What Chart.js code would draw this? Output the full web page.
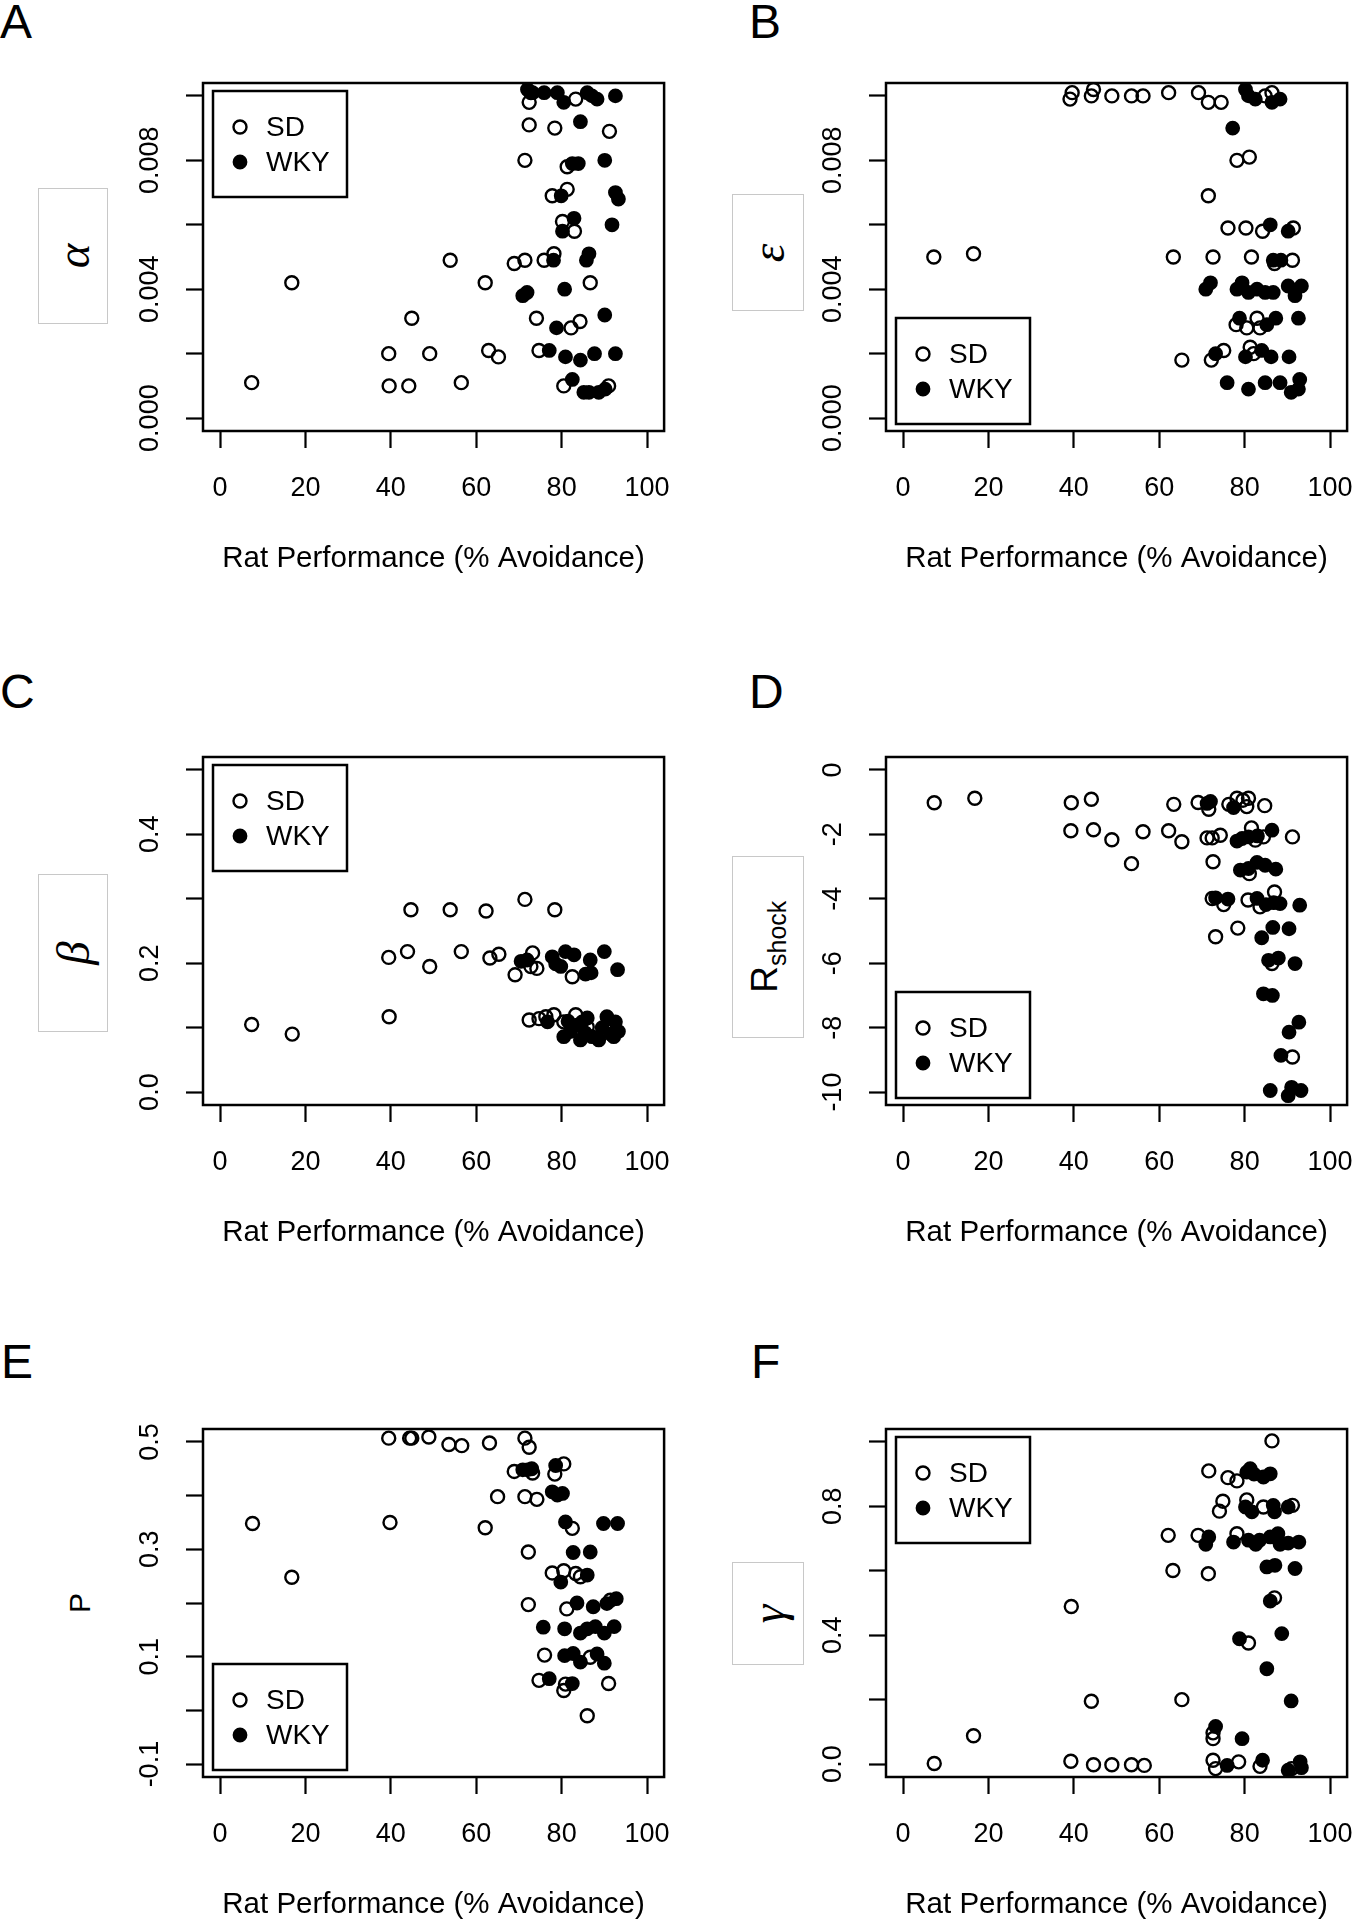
<!DOCTYPE html>
<html>
<head>
<meta charset="utf-8">
<script src="https://cdn.jsdelivr.net/npm/chart.js@4.4.0/dist/chart.umd.min.js"></script>
<style>
  body { margin: 0; background: #fff; width: 1356px; height: 1920px; position: relative; overflow: hidden;
         font-family: 'Liberation Sans', Arial, sans-serif; }
  .panel { position: absolute; width: 673px; height: 590px; }
  .letter { position: absolute; font-size: 48px; line-height: 1; color: #000; }
  .ylab { position: absolute; border: 1px solid #c8c8c8; background: #fff; box-sizing: border-box;
          display: flex; align-items: center; justify-content: center; }
  .ylab span, .yplain span { display: inline-block; transform: rotate(-90deg); white-space: nowrap; }
  .greek { font-family: 'Liberation Serif', 'DejaVu Serif', serif; font-style: italic; font-size: 47px; }
  .yplain { position: absolute; width: 40px; height: 40px; display: flex; align-items: center; justify-content: center; font-size: 30px; }
</style>
</head>
<body>

<div class="letter" style="left:0px;top:-2px">A</div>
<div class="letter" style="left:749px;top:-2px">B</div>
<div class="letter" style="left:0px;top:668px">C</div>
<div class="letter" style="left:749px;top:668px">D</div>
<div class="letter" style="left:1px;top:1338px">E</div>
<div class="letter" style="left:751px;top:1338px">F</div>

<div class="ylab" style="left:38px;top:188px;width:70px;height:136px"><span class="greek">α</span></div>
<div class="ylab" style="left:732px;top:194px;width:72px;height:117px"><span class="greek">ε</span></div>
<div class="ylab" style="left:38px;top:874px;width:70px;height:158px"><span class="greek">β</span></div>
<div class="ylab" style="left:732px;top:856px;width:72px;height:182px"><span style="font-size:37px">R<sub style="font-size:25px">shock</sub></span></div>
<div class="yplain" style="left:60px;top:1583px"><span>P</span></div>
<div class="ylab" style="left:732px;top:1562px;width:72px;height:103px"><span class="greek">γ</span></div>

<div class="panel" style="left:0;top:0"><canvas id="cA" width="673" height="590"></canvas></div>
<div class="panel" style="left:683px;top:0"><canvas id="cB" width="673" height="590"></canvas></div>
<div class="panel" style="left:0;top:674px"><canvas id="cC" width="673" height="590"></canvas></div>
<div class="panel" style="left:683px;top:674px"><canvas id="cD" width="673" height="590"></canvas></div>
<div class="panel" style="left:0;top:1346px"><canvas id="cE" width="673" height="590"></canvas></div>
<div class="panel" style="left:683px;top:1346px"><canvas id="cF" width="673" height="590"></canvas></div>

<script>
// ---- data: [% avoidance, parameter value] ----
const xTitle = 'Rat Performance (% Avoidance)';
const groups = ['SD', 'WKY'];
const xTicks = [0, 20, 40, 60, 80, 100];

// A: alpha
const sdA = [[7.4,0.0011],[16.8,0.0042],[39.5,0.0020],[39.6,0.0010],[44.2,0.0010],[44.9,0.0031],[49.1,0.0020],[53.9,0.0049],[56.5,0.0011],[62.1,0.0042],[62.9,0.0021],[65.2,0.0019],[68.9,0.0048],[71.4,0.0049],[71.4,0.0080],[72.4,0.0091],[72.4,0.0098],[72.8,0.0101],[74.1,0.0031],[74.7,0.0021],[75.9,0.0049],[77.8,0.0069],[78.2,0.0051],[78.4,0.0090],[80.2,0.0061],[80.5,0.0010],[81.3,0.0071],[81.3,0.0078],[82.2,0.0028],[83.0,0.0058],[83.3,0.0099],[84.3,0.0030],[86.7,0.0042],[91.0,0.0010],[91.2,0.0089]];
const wkyA = [[70.9,0.0038],[71.9,0.0039],[72.0,0.0102],[73.2,0.0101],[75.9,0.0101],[77.1,0.0021],[78.1,0.0049],[78.8,0.0028],[79.0,0.0101],[79.9,0.0069],[80.2,0.0058],[80.5,0.0098],[80.7,0.0040],[80.9,0.0019],[82.5,0.0079],[82.5,0.0012],[82.9,0.0062],[83.9,0.0079],[84.4,0.0092],[84.4,0.0018],[85.2,0.0008],[85.8,0.0049],[86.0,0.0101],[86.4,0.0051],[86.4,0.0008],[87.1,0.0100],[87.7,0.0020],[88.3,0.0099],[88.7,0.0008],[90.1,0.0080],[90.1,0.0032],[90.2,0.0009],[91.8,0.0060],[92.6,0.0100],[92.6,0.0070],[93.3,0.0068],[92.6,0.0020]];
const yTicksA = [0, 0.002, 0.004, 0.006, 0.008, 0.010];
const yTextA = ['0.000', '0.004', '0.008'];

// B: epsilon
const sdB = [[7.2,0.0050],[16.5,0.0051],[39.1,0.0099],[39.6,0.0101],[44.1,0.0100],[44.6,0.0102],[48.9,0.0100],[53.5,0.0100],[56.2,0.0100],[62.2,0.0101],[63.3,0.0050],[65.3,0.0018],[69.2,0.0101],[71.5,0.0098],[71.5,0.0069],[72.2,0.0018],[72.6,0.0050],[74.5,0.0098],[75.1,0.0021],[76.1,0.0059],[78.0,0.0029],[78.2,0.0080],[80.3,0.0059],[80.5,0.0028],[81.1,0.0081],[81.3,0.0022],[81.6,0.0050],[82.1,0.0020],[82.9,0.0031],[83.6,0.0028],[84.2,0.0058],[84.8,0.0100],[86.4,0.0101],[87.0,0.0048],[91.2,0.0049],[91.4,0.0059]];
const wkyB = [[70.9,0.0040],[72.0,0.0042],[73.2,0.0020],[75.9,0.0011],[77.2,0.0090],[78.2,0.0040],[78.8,0.0031],[79.4,0.0042],[80.2,0.0102],[80.2,0.0019],[80.9,0.0100],[80.9,0.0039],[80.9,0.0009],[82.5,0.0099],[82.9,0.0040],[84.0,0.0021],[84.8,0.0039],[84.8,0.0011],[85.2,0.0029],[86.0,0.0060],[86.2,0.0019],[86.4,0.0098],[86.7,0.0049],[86.7,0.0039],[87.3,0.0031],[88.3,0.0099],[88.3,0.0011],[88.5,0.0049],[90.2,0.0058],[90.2,0.0041],[90.4,0.0019],[90.9,0.0008],[91.8,0.0038],[92.6,0.0031],[92.6,0.0009],[92.9,0.0012],[93.3,0.0041]];
const yTicksB = [0, 0.002, 0.004, 0.006, 0.008, 0.010];
const yTextB = ['0.000', '0.004', '0.008'];

// C: beta
const sdC = [[7.4,0.105],[16.9,0.090],[39.6,0.117],[39.5,0.209],[43.9,0.218],[44.7,0.283],[49.1,0.195],[53.9,0.283],[56.5,0.218],[62.3,0.281],[63.2,0.208],[65.3,0.214],[69.1,0.182],[71.4,0.299],[72.4,0.112],[72.8,0.195],[73.2,0.216],[74.2,0.192],[74.7,0.114],[76.3,0.117],[78.2,0.120],[78.4,0.283],[80.5,0.109],[82.5,0.179],[83.3,0.120],[86.0,0.101],[90.6,0.096]];
const wkyC = [[70.5,0.203],[71.9,0.205],[76.7,0.109],[77.8,0.210],[78.6,0.199],[79.8,0.195],[80.5,0.086],[80.9,0.218],[81.5,0.110],[82.1,0.094],[82.9,0.213],[83.6,0.104],[84.4,0.081],[84.8,0.109],[85.5,0.092],[85.6,0.183],[86.0,0.115],[86.7,0.205],[86.9,0.185],[87.1,0.086],[88.7,0.081],[89.5,0.100],[90.0,0.218],[90.6,0.117],[91.5,0.090],[92.2,0.086],[92.6,0.109],[93.1,0.190],[93.3,0.094]];
const yTicksC = [0, 0.1, 0.2, 0.3, 0.4, 0.5];
const yTextC = ['0.0', '0.2', '0.4'];

// D: R shock
const sdD = [[7.3,-1.02],[16.8,-0.88],[39.4,-1.02],[44.1,-0.91],[39.3,-1.89],[44.6,-1.86],[48.9,-2.17],[53.5,-2.91],[56.2,-1.92],[62.2,-1.89],[63.4,-1.07],[65.3,-2.23],[69.1,-1.01],[71.6,-1.22],[71.2,-2.11],[72.4,-2.11],[72.6,-2.85],[72.4,-3.99],[73.2,-5.18],[74.3,-2.03],[75.1,-4.18],[76.3,-1.07],[78.2,-0.88],[78.4,-4.91],[79.6,-0.94],[80.5,-1.14],[80.8,-4.04],[80.9,-0.88],[81.1,-3.22],[81.6,-1.80],[82.5,-2.18],[83.6,-4.25],[84.4,-2.08],[84.7,-1.11],[86.4,-6.01],[87.0,-3.79],[91.2,-2.08],[91.2,-8.91]];
const wkyD = [[71.2,-1.04],[72.0,-0.98],[73.2,-3.97],[76.1,-4.01],[77.4,-1.17],[78.2,-2.21],[79.0,-3.11],[79.4,-2.13],[80.9,-2.08],[80.9,-3.06],[82.9,-2.87],[82.9,-3.99],[83.0,-2.05],[84.0,-5.21],[84.4,-6.95],[84.8,-2.96],[85.0,-4.18],[85.6,-5.91],[86.0,-9.95],[86.4,-1.87],[86.5,-7.00],[86.6,-4.89],[86.8,-4.12],[87.3,-3.08],[87.9,-5.84],[88.3,-4.15],[88.5,-8.86],[90.2,-10.11],[90.4,-4.93],[90.4,-8.14],[91.0,-9.85],[91.8,-6.01],[92.7,-7.83],[92.9,-4.20],[93.2,-9.95]];
const yTicksD = [-10, -8, -6, -4, -2, 0];
const yTextD = ['0', '-2', '-4', '-6', '-8', '-10'];

// E: P
const sdE = [[7.6,0.348],[16.8,0.248],[39.5,0.507],[39.8,0.350],[44.4,0.507],[44.9,0.507],[48.9,0.509],[53.6,0.495],[56.6,0.493],[62.1,0.340],[63.1,0.498],[65.0,0.398],[68.9,0.445],[71.4,0.507],[71.4,0.398],[72.2,0.295],[72.2,0.197],[72.4,0.490],[73.2,0.442],[74.2,0.393],[74.7,0.056],[76.0,0.103],[77.8,0.256],[78.4,0.440],[80.5,0.459],[80.5,0.260],[80.5,0.037],[80.9,0.049],[81.2,0.189],[82.5,0.339],[83.3,0.255],[84.4,0.249],[86.0,-0.010],[86.7,0.099],[91.0,0.050],[91.4,0.205]];
const wkyE = [[70.9,0.448],[72.0,0.448],[73.0,0.450],[75.7,0.155],[77.1,0.059],[77.8,0.407],[78.6,0.456],[79.0,0.401],[79.8,0.239],[80.2,0.404],[80.7,0.152],[80.7,0.102],[80.9,0.351],[82.5,0.050],[82.7,0.294],[82.7,0.106],[83.6,0.200],[84.4,0.144],[84.4,0.090],[86.0,0.252],[86.0,0.152],[86.7,0.295],[87.4,0.193],[87.9,0.156],[88.3,0.105],[89.8,0.348],[90.0,0.144],[90.0,0.088],[90.6,0.199],[92.3,0.156],[92.8,0.208],[93.1,0.348]];
const yTicksE = [-0.1, 0, 0.1, 0.2, 0.3, 0.4, 0.5];
const yTextE = ['-0.1', '0.1', '0.3', '0.5'];

// F: gamma
const sdF = [[7.3,0.002],[16.5,0.088],[39.3,0.009],[39.4,0.489],[44.1,0.195],[44.6,-0.002],[48.9,-0.002],[53.5,-0.002],[56.5,-0.004],[62.1,0.710],[63.2,0.601],[65.3,0.200],[69.1,0.710],[71.5,0.591],[71.6,0.910],[72.6,0.097],[72.6,0.079],[72.6,0.012],[73.2,-0.014],[74.1,0.785],[74.9,0.816],[76.1,0.889],[78.2,0.879],[78.2,0.715],[78.6,0.007],[80.5,0.820],[80.9,0.376],[83.6,-0.007],[84.4,0.798],[86.4,1.003],[87.0,0.516],[91.0,-0.014],[91.2,0.803]];
const wkyF = [[70.9,0.682],[71.6,0.705],[73.2,0.117],[75.9,-0.004],[77.4,0.689],[78.8,0.389],[79.4,0.079],[80.2,0.798],[80.5,0.906],[80.9,0.695],[81.3,0.917],[82.2,0.900],[81.7,0.783],[82.6,0.682],[83.5,0.695],[84.2,0.012],[84.4,0.891],[85.2,0.612],[85.2,0.296],[86.0,0.901],[86.0,0.506],[86.0,0.705],[86.7,0.803],[87.0,0.783],[87.1,0.617],[87.8,0.715],[88.3,0.682],[88.7,0.405],[90.2,0.798],[90.2,0.686],[90.2,-0.019],[90.9,0.196],[91.8,0.607],[92.7,0.689],[93.0,0.007],[93.3,-0.011]];
const yTicksF = [0, 0.2, 0.4, 0.6, 0.8, 1.0];
const yTextF = ['0.0', '0.4', '0.8'];

// ---- drawing ----
const FONT = "'Liberation Sans', Arial, sans-serif";
Chart.defaults.font.family = FONT;
Chart.defaults.color = '#000';

// R-like extras: plot box, rotated y tick labels, boxed legend
const rPlot = {
  id: 'rPlot',
  afterDraw(chart, args, o) {
    const { ctx, chartArea: a } = chart;
    const ys = chart.scales.y;
    ctx.save();
    ctx.strokeStyle = '#000';
    ctx.lineWidth = 2.5;
    ctx.strokeRect(a.left, a.top, a.right - a.left, a.bottom - a.top);

    ctx.fillStyle = '#000';
    ctx.font = '27px ' + FONT;
    ctx.textAlign = 'center';
    ctx.textBaseline = 'middle';
    o.yText.forEach(t => {
      ctx.save();
      ctx.translate(a.left - 52, ys.getPixelForValue(Number(t)));
      ctx.rotate(-Math.PI / 2);
      ctx.fillText(t, 0, 0);
      ctx.restore();
    });

    const w = 134, h = 106;
    const lx = a.left + 10;
    const ly = o.legend === 'top' ? a.top + 8 : a.bottom - 7 - h;
    ctx.fillStyle = '#fff';
    ctx.fillRect(lx, ly, w, h);
    ctx.lineWidth = 2.5;
    ctx.strokeRect(lx, ly, w, h);
    ctx.font = '28px ' + FONT;
    ctx.textAlign = 'left';
    chart.data.datasets.forEach((d, i) => {
      const cy = ly + 36 + i * 35;
      ctx.beginPath();
      ctx.arc(lx + 27, cy, d.pointRadius, 0, Math.PI * 2);
      ctx.lineWidth = d.pointBorderWidth;
      ctx.fillStyle = d.pointBackgroundColor;
      ctx.fill();
      ctx.stroke();
      ctx.fillStyle = '#000';
      ctx.fillText(d.label, lx + 53, cy + 1);
    });
    ctx.restore();
  }
};

function panel(id, sd, wky, yTicks, yText, legend) {
  const lo = yTicks[0], hi = yTicks[yTicks.length - 1];
  const pad = (hi - lo) * 0.04;
  const pts = arr => arr.map(p => ({ x: p[0], y: p[1] }));
  new Chart(document.getElementById(id), {
    type: 'scatter',
    data: {
      datasets: [
        { label: groups[0], data: pts(sd), order: 2, pointRadius: 6.5, pointBorderWidth: 2.4,
          pointBorderColor: '#000', pointBackgroundColor: 'rgba(0,0,0,0)' },
        { label: groups[1], data: pts(wky), order: 1, pointRadius: 6.3, pointBorderWidth: 2.2,
          pointBorderColor: '#000', pointBackgroundColor: '#000' }
      ]
    },
    options: {
      responsive: false,
      animation: false,
      devicePixelRatio: 1,
      layout: { padding: { left: 186, right: 7, top: 83, bottom: 0 } },
      plugins: { legend: { display: false }, tooltip: { enabled: false }, rPlot: { yText, legend } },
      scales: {
        x: {
          type: 'linear', min: -4, max: 104,
          afterBuildTicks: s => { s.ticks = xTicks.map(v => ({ value: v })); },
          ticks: { font: { size: 27 }, color: '#000', padding: 24, autoSkip: false, maxRotation: 0,
                   callback: v => String(v) },
          grid: { drawOnChartArea: false, tickLength: 17, tickWidth: 2.2, tickColor: '#000' },
          border: { display: false },
          title: { display: true, text: xTitle, font: { size: 29.5, lineHeight: 1 }, color: '#000',
                   padding: { top: 0, bottom: 16 } },
          afterFit: s => { s.height = 159; s.paddingLeft = 0; s.paddingRight = 0; }
        },
        y: {
          type: 'linear', min: lo - pad, max: hi + pad,
          afterBuildTicks: s => { s.ticks = yTicks.map(v => ({ value: v })); },
          ticks: { display: false },
          grid: { drawOnChartArea: false, tickLength: 17, tickWidth: 2.2, tickColor: '#000' },
          border: { display: false },
          afterFit: s => { s.width = 17; s.paddingTop = 0; s.paddingBottom = 0; }
        }
      }
    },
    plugins: [rPlot]
  });
}

panel('cA', sdA, wkyA, yTicksA, yTextA, 'top');
panel('cB', sdB, wkyB, yTicksB, yTextB, 'bottom');
panel('cC', sdC, wkyC, yTicksC, yTextC, 'top');
panel('cD', sdD, wkyD, yTicksD, yTextD, 'bottom');
panel('cE', sdE, wkyE, yTicksE, yTextE, 'bottom');
panel('cF', sdF, wkyF, yTicksF, yTextF, 'top');
</script>
</body>
</html>
